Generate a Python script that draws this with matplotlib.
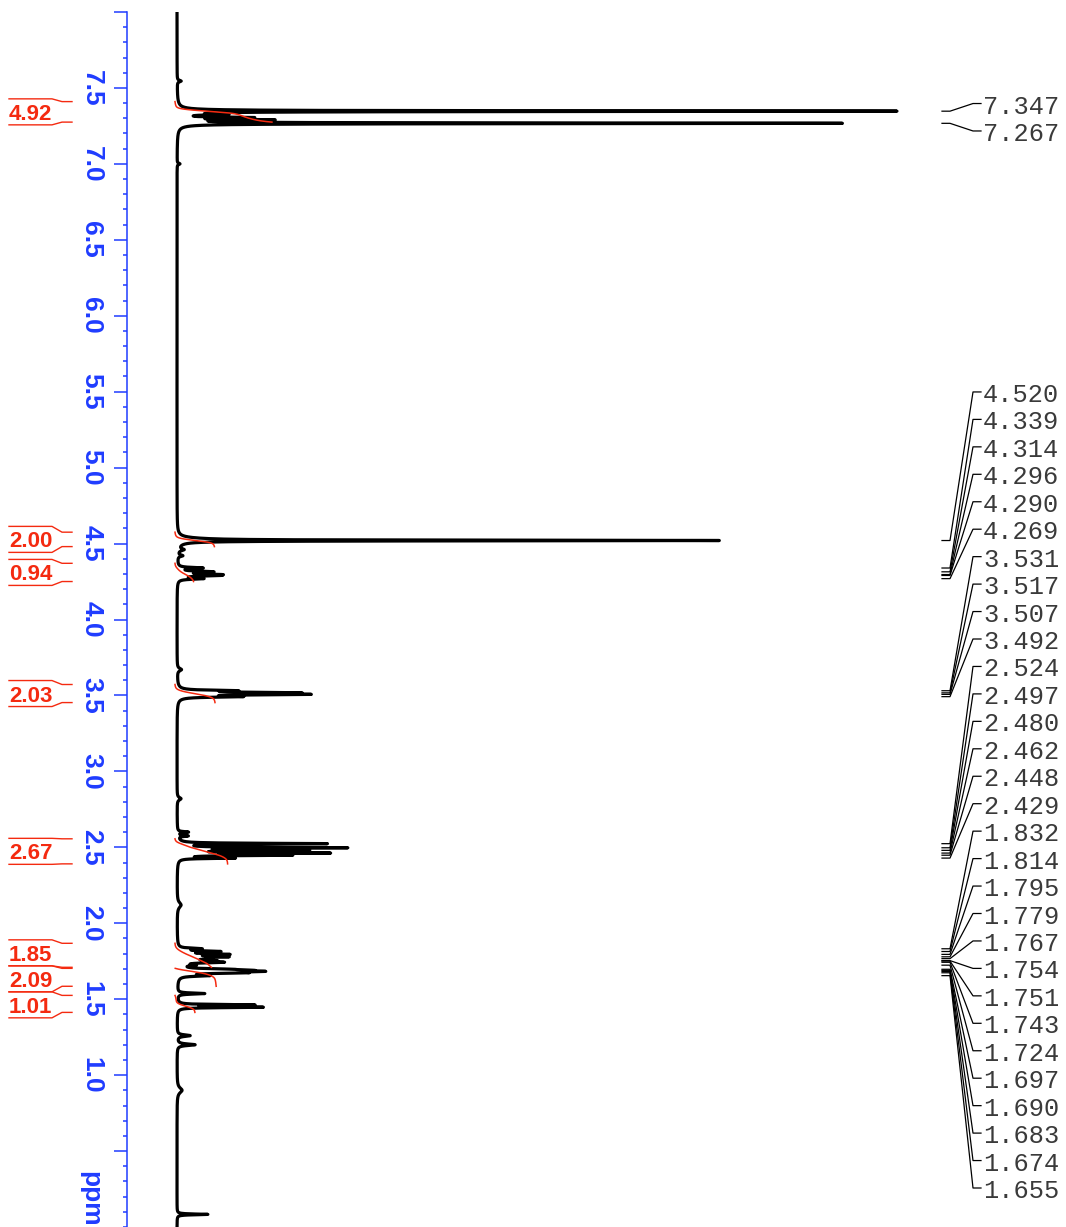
import numpy as np
import matplotlib
matplotlib.use("Agg")
import matplotlib.pyplot as plt
from matplotlib import transforms
from matplotlib.lines import Line2D
from matplotlib.ticker import MultipleLocator, FixedLocator, FixedFormatter

W, H = 1066, 1227
DPI = 100

BLUE = "#1f3cff"
RED = "#f42a10"

# ---- 1H resonances: shift (ppm), relative height (tallest = 100), half-width (ppm)
line_ppm = [7.545, 7.347, 7.325, 7.305, 7.290, 7.267, 7.000,
            4.530, 4.520, 4.460, 4.420,
            4.339, 4.314, 4.296, 4.290, 4.269,
            3.670, 3.531, 3.517, 3.507, 3.492,
            2.820, 2.600, 2.575,
            2.524, 2.497, 2.480, 2.462, 2.448, 2.429,
            2.120,
            1.832, 1.814, 1.795, 1.779, 1.767, 1.754, 1.751, 1.743, 1.724,
            1.697, 1.690, 1.683, 1.674, 1.655,
            1.537, 1.462, 1.447,
            1.260, 1.200, 0.900, 0.083]
line_height = [0.56, 100.0, 5.5, 9.5, 12.0, 92.3, 0.4,
               1.7, 74.5, 0.8, 0.7,
               3.4, 4.6, 4.4, 4.2, 3.4,
               0.6, 7.0, 14.5, 16.0, 7.8,
               0.55, 1.5, 1.4,
               20.5, 22.8, 17.0, 20.0, 14.8, 7.5,
               0.55,
               3.0, 5.4, 6.4, 6.0, 3.4, 2.2, 2.2, 5.2, 1.8,
               4.8, 6.2, 8.4, 7.4, 3.8,
               3.8, 10.4, 11.6,
               1.8, 2.5, 0.7, 4.3]
line_hwhm = [0.006, 0.0025, 0.003, 0.003, 0.003, 0.0025, 0.005,
             0.012, 0.0025, 0.008, 0.006,
             0.0045, 0.0045, 0.0045, 0.0045, 0.0045,
             0.010, 0.004, 0.004, 0.004, 0.004,
             0.010, 0.004, 0.004,
             0.003, 0.003, 0.003, 0.003, 0.003, 0.003,
             0.020,
             0.0045, 0.0045, 0.0045, 0.0045, 0.0045, 0.0045, 0.0045, 0.0045, 0.0045,
             0.0045, 0.0045, 0.0045, 0.0045, 0.0045,
             0.004, 0.003, 0.003,
             0.006, 0.006, 0.020, 0.003]

# ---- integration regions (ppm) and normalised integrals
integral_start = [7.410, 4.575, 4.370, 3.572, 2.556, 1.868, 1.703, 1.525]
integral_end = [7.275, 4.480, 4.250, 3.453, 2.391, 1.710, 1.585, 1.413]
integral_value = [4.92, 2.00, 0.94, 2.03, 2.67, 1.85, 2.09, 1.01]

# ---- peak-picking list
picked_ppm = [7.347, 7.267,
              4.520, 4.339, 4.314, 4.296, 4.290, 4.269,
              3.531, 3.517, 3.507, 3.492,
              2.524, 2.497, 2.480, 2.462, 2.448, 2.429,
              1.832, 1.814, 1.795, 1.779, 1.767, 1.754, 1.751, 1.743,
              1.724, 1.697, 1.690, 1.683, 1.674, 1.655]

# ---- chemical-shift axis
major_ticks = [0.5, 1.0, 1.5, 2.0, 2.5, 3.0, 3.5, 4.0, 4.5, 5.0, 5.5, 6.0, 6.5, 7.0, 7.5, 8.0]
major_labels = ["", "1.0", "1.5", "2.0", "2.5", "3.0", "3.5", "4.0", "4.5",
                "5.0", "5.5", "6.0", "6.5", "7.0", "7.5", ""]

# ---------------------------------------------------------------------------
ppm = np.linspace(0.0, 8.0, 16001)
spec = np.zeros_like(ppm)
for p0, h, g in zip(line_ppm, line_height, line_hwhm):
    spec += h * g ** 2 / (g ** 2 + (ppm - p0) ** 2)

fig = plt.figure(figsize=(W / DPI, H / DPI), dpi=DPI)
fig.patch.set_facecolor("white")

axis_px = 127.0
base_px = 177.0
px_per_unit = 7.18
ax = fig.add_axes([axis_px / W, 0.0, 1 - axis_px / W, 1215.0 / H])
ax.set_xlim(-(base_px - axis_px) / px_per_unit, (W - base_px) / px_per_unit)
ax.set_ylim(0.0, 8.0)
ax.patch.set_alpha(0)

# spectrum trace
ax.plot(spec, ppm, color="black", lw=2.3, solid_joinstyle="round", zorder=3)

# integral traces (running integral of the trace inside each region)
step = ppm[1] - ppm[0]
kern_x = np.arange(-60, 61) * step
kern = np.exp(-0.5 * (kern_x / 0.010) ** 2)
kern /= kern.sum()
smooth = np.convolve(spec, kern, mode="same")
int_scale = 2.744
for a, b, v in zip(integral_start, integral_end, integral_value):
    m = (ppm <= a) & (ppm >= b)
    seg = smooth[m][::-1]
    cum = np.cumsum(seg)
    cum = cum / cum[-1]
    ax.plot(-0.28 + cum * v * int_scale, ppm[m][::-1], color=RED, lw=1.1, zorder=4)

# axis styling
for s in ("top", "right", "bottom"):
    ax.spines[s].set_visible(False)
ax.spines["left"].set_color(BLUE)
ax.spines["left"].set_linewidth(1.1)
ax.xaxis.set_visible(False)
ax.yaxis.set_major_locator(FixedLocator(major_ticks))
ax.yaxis.set_major_formatter(FixedFormatter(major_labels))
ax.yaxis.set_minor_locator(MultipleLocator(0.1))
ax.tick_params(axis="y", which="major", length=9.2, width=1.1, color=BLUE,
               labelcolor=BLUE, labelsize=19, pad=7.8, labelrotation=270)
ax.tick_params(axis="y", which="minor", length=2.7, width=1.1, color=BLUE)
for lbl in ax.get_yticklabels():
    lbl.set_fontfamily("Liberation Sans")
    lbl.set_fontweight("bold")
    lbl.set_va("center")

# top-left pixel frame for annotations
pix = transforms.Affine2D().scale(1, -1).translate(0, H)


def to_px(values):
    pts = np.column_stack([np.zeros(len(values)), np.asarray(values, float)])
    return H - ax.transData.transform(pts)[:, 1]


def spread(targets, gap, lo=-np.inf, hi=np.inf):
    clusters = []
    for t in targets:
        clusters.append([t, [t]])
        while True:
            c = clusters[-1]
            n = len(c[1])
            start = np.mean(c[1]) - (n - 1) * gap / 2
            start = min(max(start, lo), hi - (n - 1) * gap)
            c[0] = start
            if len(clusters) > 1:
                prev = clusters[-2]
                if prev[0] + len(prev[1]) * gap > start:
                    prev[1].extend(c[1])
                    clusters.pop()
                    continue
            break
    out = []
    for start, members in clusters:
        out.extend(start + gap * np.arange(len(members)))
    return np.array(out)


fig.canvas.draw()

# integral labels on the left
top_px = to_px(integral_start)
bot_px = to_px(integral_end)
centres = spread((top_px + bot_px) / 2, 26.0)
for c, yt, yb, v in zip(centres, top_px, bot_px, integral_value):
    for yl, ye in ((c - 13, yt), (c + 13, yb)):
        fig.add_artist(Line2D([9, 52, 62, 72], [yl, yl, ye, ye], transform=pix,
                              color=RED, lw=1.0))
    fig.text(9, c + 8, f"{v:.2f}", transform=pix, ha="left", va="baseline",
             color=RED, fontsize=16, fontweight="bold", family="Liberation Sans")

# peak labels on the right
peak_px = to_px(picked_ppm)
label_px = spread(peak_px, 27.45, lo=0, hi=1188)
for yp, yc, p in zip(peak_px, label_px, picked_ppm):
    fig.add_artist(Line2D([942, 950, 973, 981], [yp, yp, yc, yc], transform=pix,
                          color="black", lw=0.9))
    fig.text(983, yc + 3, f"{p:.3f}", transform=pix, ha="left", va="center",
             color="#3a3a3a", fontsize=18.3, family="Liberation Mono")

fig.text(90, 1199, "ppm", transform=pix, rotation=270, ha="center", va="center",
         color=BLUE, fontsize=19, fontweight="bold", family="Liberation Sans")

fig.savefig("out.png", dpi=DPI, facecolor="white")
